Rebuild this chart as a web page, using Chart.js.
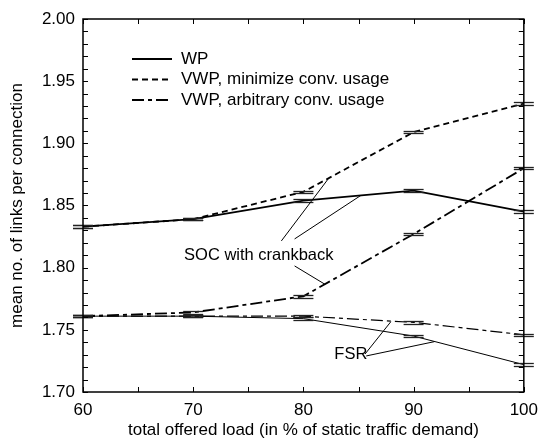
<!DOCTYPE html>
<html>
<head>
<meta charset="utf-8">
<script src="https://cdn.jsdelivr.net/npm/chart.js@4.4.1/dist/chart.umd.min.js"></script>
<style>
  html, body { margin: 0; padding: 0; background: #fff; }
  #wrap { width: 546px; height: 439px; }
</style>
</head>
<body>
<div id="wrap"><canvas id="linksChart" width="546" height="439"></canvas></div>
<script>
/* ================= DATA ================= */
var loads = [60, 70, 80, 90, 100];
var socWP = [1.833, 1.839, 1.854, 1.862, 1.845];
var socVwpMin = [1.833, 1.839, 1.861, 1.909, 1.932];
var socVwpArb = [1.761, 1.764, 1.777, 1.827, 1.880];
var fsrWP = [1.761, 1.761, 1.759, 1.745, 1.722];
var fsrVwp = [1.761, 1.761, 1.761, 1.756, 1.746];
var errSmall = [0.001, 0.001, 0.001, 0.001, 0.001];
var legendLabels = ["WP", "VWP, minimize conv. usage", "VWP, arbitrary conv. usage"];
var xTitle = "total offered load (in % of static traffic demand)";
var yTitle = "mean no. of links per connection";
var FONT = "'Liberation Sans', Arial, Helvetica, sans-serif";

/* annotations in data units */
var socNote = { text: "SOC with crankback", x: 75.95, y: 1.8102 };
var socLeaders = [
    [78.0, 1.8215, 82.25, 1.8714],
    [79.2, 1.8231, 85.23, 1.8582],
    [79.2, 1.8014, 81.98, 1.7865]
];
var fsrNote = { text: "FSR", x: 84.3, y: 1.7306 };
var fsrLeaders = [
    [85.6, 1.7306, 87.93, 1.7565],
    [85.7, 1.7290, 91.89, 1.7405]
];

function pts(ys) {
    return loads.map(function (x, i) { return { x: x, y: ys[i] }; });
}

function makeSet(label, ys, dash, width, err) {
    return {
        label: label,
        data: pts(ys),
        borderColor: "#000",
        borderWidth: width,
        borderDash: dash,
        pointRadius: 0,
        showLine: true,
        fill: false,
        tension: 0,
        err: err
    };
}

/* ================= PLUGINS ================= */
var errorCaps = {
    id: "errorCaps",
    afterDatasetsDraw: function (chart) {
        var ctx = chart.ctx;
        var xs = chart.scales.x, ys = chart.scales.y;
        ctx.save();
        ctx.strokeStyle = "#222";
        ctx.lineWidth = 1.3;
        ctx.setLineDash([]);
        chart.data.datasets.forEach(function (ds) {
            if (!ds.err) return;
            ds.data.forEach(function (p, i) {
                var px = xs.getPixelForValue(p.x);
                [p.y - ds.err[i], p.y + ds.err[i]].forEach(function (v) {
                    var py = Math.round(ys.getPixelForValue(v)) + 0.5;
                    ctx.beginPath();
                    ctx.moveTo(px - 10, py);
                    ctx.lineTo(px + 10, py);
                    ctx.stroke();
                });
            });
        });
        ctx.restore();
    }
};

var frameTicks = {
    id: "frameTicks",
    afterDraw: function (chart) {
        var ctx = chart.ctx;
        var a = chart.chartArea;
        var xs = chart.scales.x, ys = chart.scales.y;
        ctx.save();
        ctx.strokeStyle = "#000";
        ctx.lineWidth = 1;
        ctx.setLineDash([]);
        xs.ticks.forEach(function (t) {
            var px = Math.round(xs.getPixelForValue(t.value)) + 0.5;
            ctx.beginPath();
            ctx.moveTo(px, a.bottom); ctx.lineTo(px, a.bottom - 5);
            ctx.moveTo(px, a.top); ctx.lineTo(px, a.top + 5);
            ctx.stroke();
        });
        ys.ticks.forEach(function (t) {
            var py = Math.round(ys.getPixelForValue(t.value)) + 0.5;
            ctx.beginPath();
            ctx.moveTo(a.left, py); ctx.lineTo(a.left + 5, py);
            ctx.moveTo(a.right, py); ctx.lineTo(a.right - 5, py);
            ctx.stroke();
        });
        ctx.lineWidth = 1.5;
        ctx.strokeRect(a.left, a.top, a.right - a.left, a.bottom - a.top);

        /* legend */
        var dashes = [[], [6, 4], [12, 4, 4, 4]];
        ctx.font = "17px " + FONT;
        ctx.fillStyle = "#000";
        ctx.textBaseline = "middle";
        ctx.textAlign = "left";
        legendLabels.forEach(function (lab, i) {
            var ly = 59 + i * 20.5;
            ctx.beginPath();
            ctx.lineWidth = 1.8;
            ctx.setLineDash(dashes[i]);
            ctx.moveTo(132, ly); ctx.lineTo(172, ly);
            ctx.stroke();
            ctx.setLineDash([]);
            ctx.fillText(lab, 181, ly);
        });

        /* annotations */
        ctx.lineWidth = 1;
        ctx.textAlign = "center";
        ctx.font = "16.5px " + FONT;
        [[socNote, socLeaders], [fsrNote, fsrLeaders]].forEach(function (n) {
            ctx.fillText(n[0].text, xs.getPixelForValue(n[0].x), ys.getPixelForValue(n[0].y));
            n[1].forEach(function (l) {
                ctx.beginPath();
                ctx.moveTo(xs.getPixelForValue(l[0]), ys.getPixelForValue(l[1]));
                ctx.lineTo(xs.getPixelForValue(l[2]), ys.getPixelForValue(l[3]));
                ctx.stroke();
            });
        });
        ctx.restore();
    }
};

/* ================= CHART ================= */
var chart = new Chart(document.getElementById("linksChart"), {
    type: "scatter",
    data: {
        datasets: [
            makeSet("WP", socWP, [], 1.8, errSmall),
            makeSet("VWP, minimize conv. usage", socVwpMin, [6, 4], 1.8, errSmall),
            makeSet("VWP, arbitrary conv. usage", socVwpArb, [12, 4, 4, 4], 1.8, errSmall),
            makeSet("WP FSR", fsrWP, [], 1, errSmall),
            makeSet("VWP FSR", fsrVwp, [12, 4, 4, 4], 1.2, errSmall)
        ]
    },
    options: {
        responsive: false,
        animation: false,
        clip: false,
        layout: { padding: { top: 19, right: 19, left: 0, bottom: 0 } },
        plugins: { legend: { display: false }, tooltip: { enabled: false } },
        scales: {
            x: {
                type: "linear",
                min: 60, max: 100,
                afterFit: function (s) { s.height = 47; },
                grid: { display: false, drawTicks: false },
                border: { display: false },
                ticks: {
                    stepSize: 5, autoSkip: false, maxRotation: 0, padding: 8,
                    color: "#000", font: { family: FONT, size: 17 },
                    callback: function (v) { return v % 10 === 0 ? String(v) : ""; }
                },
                title: {
                    display: true, text: xTitle, color: "#000",
                    font: { family: FONT, size: 17, lineHeight: 1 },
                    padding: { top: 0, bottom: 0 }
                }
            },
            y: {
                type: "linear",
                min: 1.70, max: 2.00,
                afterFit: function (s) { s.width = 83; },
                grid: { display: false, drawTicks: false },
                border: { display: false },
                ticks: {
                    stepSize: 0.01, autoSkip: false, padding: 8,
                    color: "#000", font: { family: FONT, size: 17 },
                    callback: function (v) {
                        var k = v * 20;
                        return Math.abs(k - Math.round(k)) < 1e-6 ? Number(v).toFixed(2) : "";
                    }
                },
                title: {
                    display: true, text: yTitle, color: "#000",
                    font: { family: FONT, size: 17, lineHeight: 1 },
                    padding: { top: 9, bottom: 0 }
                }
            }
        }
    },
    plugins: [errorCaps, frameTicks]
});
</script>
</body>
</html>
